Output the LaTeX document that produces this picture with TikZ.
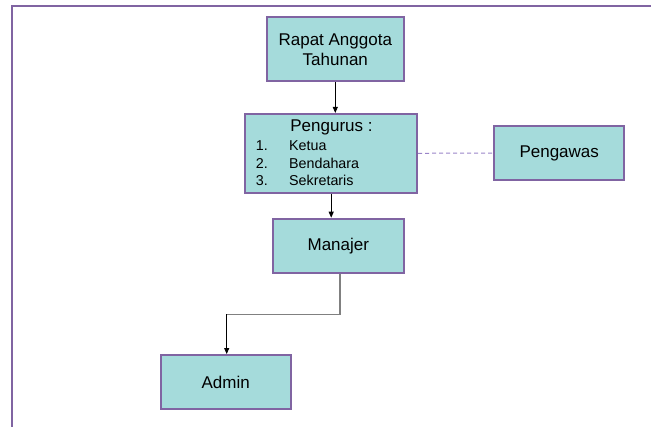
\documentclass[tikz,border=0pt]{standalone}
\usepackage{fontspec}
\setmainfont{Liberation Sans}
\usetikzlibrary{arrows.meta}
\definecolor{boxfill}{HTML}{A5DBDB}
\definecolor{boxline}{HTML}{8064A2}
\definecolor{dashline}{HTML}{9A84C8}
\begin{document}
\begin{tikzpicture}[x=1pt,y=-1pt,
  box/.style={draw=boxline, fill=boxfill, line width=2pt, inner sep=0pt},
  big/.style={font=\fontsize{17}{20.7}\selectfont, text=black, inner sep=0pt},
  small/.style={font=\fontsize{14.3}{17.7}\selectfont, text=black, inner sep=0pt},
  arr/.style={draw=black, line width=0.9pt, -{Triangle[length=6pt,width=5pt]}},
  frame/.style={draw=boxline, line width=2pt}]
\useasboundingbox (0,0) rectangle (651,427);
\draw[frame] (11.6,427) -- (11.6,6) -- (651,6);
% boxes
\node[box, minimum width=137pt, minimum height=64pt] (rapat) at (335.3,49.3) {};
\node[big, align=center] (rapattxt) at (335.3,49.8) {Rapat Anggota\\Tahunan};
\node[box, minimum width=171.7pt, minimum height=78.7pt] (pengurus) at (331.2,153.3) {};
\node[big, anchor=base] (ptitle) at (331.5,131.5) {Pengurus :};
\node[small, anchor=base west] (n1) at (255.7,150.7) {1.};
\node[small, anchor=base west] (n2) at (255.7,168.3) {2.};
\node[small, anchor=base west] (n3) at (255.7,186) {3.};
\node[small, anchor=base west] (i1) at (289,150.7) {Ketua};
\node[small, anchor=base west] (i2) at (289,168.3) {Bendahara};
\node[small, anchor=base west] (i3) at (289,186) {Sekretaris};
\node[box, minimum width=129.7pt, minimum height=54.6pt] (pengawas) at (559.2,153) {};
\node[big] (pengawastxt) at (559.2,153) {Pengawas};
\node[box, minimum width=131.3pt, minimum height=54pt] (manajer) at (338.3,245.7) {};
\node[big] (manajertxt) at (338.3,245.7) {Manajer};
\node[box, minimum width=130pt, minimum height=54.3pt] (admin) at (225.7,382.2) {};
\node[big] (admintxt) at (225.7,382.2) {Admin};
% connectors
\draw[arr] (rapat.south) -- (pengurus.north -| rapat.south);
\draw[arr] (pengurus.south) -- (pengurus.south |- manajer.north);
\draw[dashline, line width=1pt, dash pattern=on 4pt off 3pt] (pengurus.east) -- (pengawas.west);
\coordinate (bend) at (226.7,314.3);
\draw[gray, line width=1.5pt] ([xshift=1.7pt]manajer.south) |- (bend);
\draw[arr] (bend) -- (admin.north -| bend);
\end{tikzpicture}
\end{document}
